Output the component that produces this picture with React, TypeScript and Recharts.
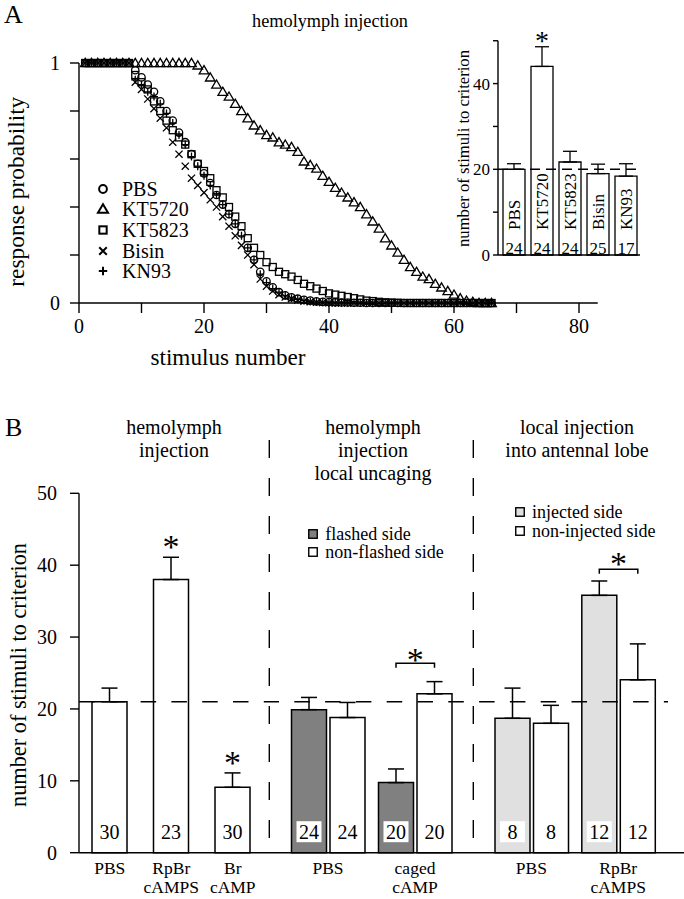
import React from 'react';
import {
  ScatterChart, Scatter, XAxis, YAxis, BarChart, Bar, ErrorBar,
  ReferenceLine, LabelList, Legend,
} from 'recharts';

const FONT = '"Liberation Serif", "Times New Roman", serif';

// ---- Panel A: response probability for stimulus 1..66
const pbs = [1, 1, 1, 1, 1, 1, 1, 1, 0.97, 0.94, 0.91, 0.88, 0.84, 0.8, 0.76, 0.71, 0.67, 0.62, 0.58, 0.54,
  0.5, 0.45, 0.41, 0.37, 0.33, 0.29, 0.23, 0.18, 0.13, 0.09, 0.065, 0.045, 0.032, 0.024, 0.018, 0.013, 0.01, 0.007, 0.005, 0.004,
  0.003, 0.002, 0.002, 0.001, 0.001, 0, 0, 0, 0, 0, 0, 0, 0, 0, 0, 0, 0, 0, 0, 0, 0, 0, 0, 0, 0, 0];
const kt5720 = [1, 1, 1, 1, 1, 1, 1, 1, 1, 1, 1, 1, 1, 1, 1, 1, 1, 1, 0.99, 0.97,
  0.94, 0.91, 0.88, 0.86, 0.83, 0.8, 0.77, 0.74, 0.72, 0.7, 0.69, 0.67, 0.66, 0.65, 0.63, 0.59, 0.575, 0.56, 0.53, 0.505,
  0.48, 0.46, 0.44, 0.42, 0.4, 0.37, 0.34, 0.31, 0.27, 0.24, 0.21, 0.18, 0.15, 0.13, 0.11, 0.1, 0.08, 0.065, 0.05, 0.035,
  0.02, 0.01, 0.005, 0, 0, 0];
const kt5823 = [1, 1, 1, 1, 1, 1, 1, 1, 0.95, 0.92, 0.89, 0.84, 0.8, 0.76, 0.72, 0.69, 0.66, 0.62, 0.58, 0.55,
  0.52, 0.47, 0.44, 0.4, 0.36, 0.32, 0.27, 0.23, 0.2, 0.17, 0.15, 0.13, 0.12, 0.11, 0.096, 0.08, 0.07, 0.06, 0.05, 0.04,
  0.035, 0.03, 0.025, 0.02, 0.015, 0.01, 0.008, 0.005, 0.003, 0.002, 0.001, 0, 0, 0, 0, 0, 0, 0, 0, 0, 0, 0, 0, 0, 0, 0];
const bisin = [1, 1, 1, 1, 1, 1, 1, 1, 0.92, 0.89, 0.85, 0.81, 0.77, 0.73, 0.67, 0.62, 0.57, 0.52, 0.49, 0.46,
  0.43, 0.4, 0.36, 0.32, 0.28, 0.24, 0.2, 0.16, 0.1, 0.07, 0.05, 0.035, 0.025, 0.018, 0.012, 0.008, 0.005, 0.003, 0.002, 0.001,
  0, 0, 0, 0, 0, 0, 0, 0, 0, 0, 0, 0, 0, 0, 0, 0, 0, 0, 0, 0, 0, 0, 0, 0, 0, 0];
const kn93 = [1, 1, 1, 1, 1, 1, 1, 1, 0.93, 0.91, 0.88, 0.86, 0.83, 0.79, 0.75, 0.7, 0.66, 0.61, 0.57, 0.53,
  0.49, 0.45, 0.41, 0.37, 0.33, 0.28, 0.23, 0.18, 0.12, 0.085, 0.06, 0.045, 0.03, 0.02, 0.015, 0.01, 0.006, 0.004, 0.003, 0.002,
  0.001, 0.001, 0, 0, 0, 0, 0, 0, 0, 0, 0, 0, 0, 0, 0, 0, 0, 0, 0, 0, 0, 0, 0, 0, 0, 0];
const xTicksA = [0, 10, 20, 30, 40, 50, 60, 70, 80];
const yTicksA = [0, 0.2, 0.4, 0.6, 0.8, 1];

// ---- Panel A inset
const insetGroups = ['PBS', 'KT5720', 'KT5823', 'Bisin', 'KN93'];
const insetMeans = [20, 44, 21.7, 19, 18.4];
const insetSem = [1.3, 4.6, 2.5, 2.2, 2.9];
const insetN = [24, 24, 24, 25, 17];
const insetSig = [0, 1, 0, 0, 0];

// ---- Panel B, hemolymph injection
const hemoGroups = ['PBS', 'RpBr cAMPS', 'Br cAMP'];
const hemoMeans = [21, 38, 9.1];
const hemoSem = [1.9, 3.1, 2.0];
const hemoN = [30, 23, 30];
const hemoSig = [0, 1, 1];

// ---- Panel B, local uncaging
const uncageGroups = ['PBS', 'caged cAMP'];
const flashedMeans = [19.9, 9.75];
const flashedSem = [1.7, 1.9];
const flashedN = [24, 20];
const nonFlashedMeans = [18.8, 22.1];
const nonFlashedSem = [2.1, 1.7];
const nonFlashedN = [24, 20];
const uncageSig = [0, 1];

// ---- Panel B, local injection into antennal lobe
const localGroups = ['PBS', 'RpBr cAMPS'];
const injectedMeans = [18.7, 35.8];
const injectedSem = [4.2, 2.0];
const injectedN = [8, 12];
const nonInjectedMeans = [18.0, 24.05];
const nonInjectedSem = [2.5, 5.0];
const nonInjectedN = [8, 12];
const localSig = [0, 1];

const yTicksB = [0, 10, 20, 30, 40, 50];
const BAR_GAP = 3.5;

const ink = { fill: 'none', stroke: '#000' };
type Mark = (cx: number, cy: number, s?: number, w?: number) => React.ReactElement;
const markCircle: Mark = (cx, cy, s = 1, w = 1.3) => <circle cx={cx} cy={cy} r={3.7 * s} {...ink} strokeWidth={w} />;
const markTriangle: Mark = (cx, cy, s = 1, w = 1.3) => (
  <path d={`M${cx},${cy - 4.6 * s}L${cx + 4.8 * s},${cy + 3.6 * s}L${cx - 4.8 * s},${cy + 3.6 * s}Z`} {...ink} strokeWidth={w} />
);
const markSquare: Mark = (cx, cy, s = 1, w = 1.3) => (
  <rect x={cx - 3.5 * s} y={cy - 3.5 * s} width={7 * s} height={7 * s} {...ink} strokeWidth={w} />
);
const markX: Mark = (cx, cy, s = 1, w = 1.3) => (
  <path d={`M${cx - 3.6 * s},${cy - 3.6 * s}L${cx + 3.6 * s},${cy + 3.6 * s}M${cx + 3.6 * s},${cy - 3.6 * s}L${cx - 3.6 * s},${cy + 3.6 * s}`} {...ink} strokeWidth={w} />
);
const markPlus: Mark = (cx, cy, s = 1, w = 1.3) => (
  <path d={`M${cx - 4 * s},${cy}H${cx + 4 * s}M${cx},${cy - 4 * s}V${cy + 4 * s}`} {...ink} strokeWidth={w} />
);

const curves = [
  { name: 'PBS', values: pbs, mark: markCircle },
  { name: 'KT5720', values: kt5720, mark: markTriangle },
  { name: 'KT5823', values: kt5823, mark: markSquare },
  { name: 'Bisin', values: bisin, mark: markX },
  { name: 'KN93', values: kn93, mark: markPlus },
];
const curveNames = curves.map((c) => c.name);
const markByName: Record<string, Mark> = Object.fromEntries(curves.map((c) => [c.name, c.mark]));

const insetData = insetGroups.map((g, i) => ({ group: g, mean: insetMeans[i], err: [0, insetSem[i]], n: insetN[i], sig: insetSig[i] }));
const hemoData = hemoGroups.map((g, i) => ({ treatment: g, mean: hemoMeans[i], err: [0, hemoSem[i]], n: hemoN[i], sig: hemoSig[i] }));
const uncageData = uncageGroups.map((g, i) => ({
  treatment: g,
  flashed: flashedMeans[i], flashedErr: [0, flashedSem[i]], flashedN: flashedN[i],
  nonFlashed: nonFlashedMeans[i], nonFlashedErr: [0, nonFlashedSem[i]], nonFlashedN: nonFlashedN[i],
  sig: uncageSig[i],
}));
const localData = localGroups.map((g, i) => ({
  treatment: g,
  injected: injectedMeans[i], injectedErr: [0, injectedSem[i]], injectedN: injectedN[i],
  nonInjected: nonInjectedMeans[i], nonInjectedErr: [0, nonInjectedSem[i]], nonInjectedN: nonInjectedN[i],
  sig: localSig[i],
}));

const axisStyle = { stroke: '#000', strokeWidth: 1.4 };

const star = (cx: number, cyMid: number, size: number) => (
  <text x={cx} y={cyMid + size * 0.47} textAnchor="middle" fontSize={size} fill="#000">*</text>
);

const ScatterLegend = ({ payload }: any) => {
  const items = [...(payload || [])].sort((a: any, b: any) => curveNames.indexOf(a.value) - curveNames.indexOf(b.value));
  return (
    <div style={{ fontFamily: FONT, fontSize: 20, color: '#000' }}>
      {items.map((p: any) => (
        <div key={p.value} style={{ display: 'flex', alignItems: 'center', height: 20.6 }}>
          <svg width={16} height={16} style={{ overflow: 'visible' }}>{markByName[p.value]?.(8, 8, 1.05, 2)}</svg>
          <span style={{ marginLeft: 11, lineHeight: 1 }}>{p.value}</span>
        </div>
      ))}
    </div>
  );
};

const boxLegend = (rowH: number) => ({ payload }: any) => (
  <div style={{ fontFamily: FONT, fontSize: 18, color: '#000' }}>
    {(payload || []).map((p: any) => (
      <div key={p.value} style={{ display: 'flex', alignItems: 'center', height: rowH }}>
        <svg width={10} height={10}><rect x={0.75} y={0.75} width={8.5} height={8.5} fill={p.payload?.fill ?? p.color} stroke="#000" strokeWidth={1.4} /></svg>
        <span style={{ marginLeft: 7, lineHeight: 1 }}>{p.value}</span>
      </div>
    ))}
  </div>
);

const insetInside = (props: any) => {
  const { x, y, width, height, index } = props;
  const cx = x + width / 2;
  const base = y + height;
  return (
    <g>
      <text x={cx} y={base - 25} dy="0.36em" transform={`rotate(-90 ${cx} ${base - 25})`} fontSize={17} fill="#000">{insetGroups[index]}</text>
      <text x={cx} y={base - 7} textAnchor="middle" dominantBaseline="central" fontSize={17} fill="#000">{insetN[index]}</text>
    </g>
  );
};

const starAbove = (means: number[], sem: number[], gap: number, size: number) => (props: any) => {
  const { x, y, width, height, index, value } = props;
  if (!value) return null;
  const pxPer = height / means[index];
  const errTop = y - sem[index] * pxPer;
  return star(x + width / 2, errTop - gap, size);
};

const countLabel = (props: any) => {
  const { x, y, width, height, value } = props;
  const cx = x + width / 2;
  const base = y + height;
  return (
    <g>
      <rect x={cx - 12.5} y={base - 31.5} width={25} height={21} fill="#fff" />
      <text x={cx} y={base - 21} textAnchor="middle" dominantBaseline="central" fontSize={20} fill="#000">{value}</text>
    </g>
  );
};

const pairBracket = (
  aMeans: number[], aSem: number[], bMeans: number[], bSem: number[], gap: number, starGap: number,
) => (props: any) => {
  const { x, y, width, height, index, value } = props;
  if (!value) return null;
  const pxPer = height / bMeans[index];
  const base = y + height;
  const top = Math.max(aMeans[index] + aSem[index], bMeans[index] + bSem[index]);
  const by = base - top * pxPer - gap;
  const right = x + width / 2;
  const left = x - BAR_GAP - width / 2;
  return (
    <g>
      <path d={`M${left},${by + 4.4}V${by}H${right}V${by + 4.4}`} fill="none" stroke="#000" strokeWidth={1.5} />
      {star((left + right) / 2, by - starGap, 34)}
    </g>
  );
};

const CatTick = (props: any) => {
  const { x, y, payload } = props;
  const lines = String(payload.value).split(' ');
  return (
    <g>
      {lines.map((l, i) => (
        <text key={i} x={x} y={y + 21 + i * 19.5} textAnchor="middle" fontSize={17.5} fill="#000">{l}</text>
      ))}
    </g>
  );
};

const refShape = (offset: number, trim: number, dash: string) => (p: any) => (
  <line x1={p.x1} y1={p.y1} x2={p.x2 - trim} y2={p.y2} stroke="#000" strokeWidth={1.4} strokeDasharray={dash} strokeDashoffset={offset} />
);

const B_H = 479;
const B_MARGIN = { top: 73.3, right: 0, bottom: 0, left: 0 };

export default function App() {
  return (
    <div style={{ position: 'absolute', left: 0, top: 0, width: 684, height: 899, background: '#fff', fontFamily: FONT, overflow: 'hidden' }}>
      {/* Panel A */}
      <div style={{ position: 'absolute', left: 0, top: 0 }}>
        <ScatterChart width={684} height={360} margin={{ top: 63, right: 86.25, bottom: 17, left: 0 }}>
          <XAxis type="number" dataKey="x" domain={[0, 83]} ticks={xTicksA} allowDataOverflow
            tickFormatter={(v: number) => (v % 20 === 0 ? String(v) : '')}
            axisLine={axisStyle} tickLine={axisStyle} tickSize={10} tickMargin={6} height={40}
            tick={{ fill: '#000', fontSize: 20 }} />
          <YAxis type="number" dataKey="y" domain={[0, 1]} ticks={yTicksA} width={79}
            tickFormatter={(v: number) => (v === 0 || v === 1 ? String(v) : '')}
            axisLine={axisStyle} tickLine={axisStyle} tickSize={9} tickMargin={10}
            tick={{ fill: '#000', fontSize: 20 }} />
          <Legend layout="vertical" align="center" verticalAlign="middle" content={ScatterLegend}
            wrapperStyle={{ left: 95, top: 178.5, width: 120 }} />
          {curves.map((c) => (
            <Scatter key={c.name} name={c.name} data={c.values.map((v, i) => ({ x: i + 1, y: v }))}
              isAnimationActive={false} shape={(p: any) => c.mark(p.cx, p.cy)} />
          ))}
        </ScatterChart>
      </div>

      {/* Panel A inset */}
      <div style={{ position: 'absolute', left: 420, top: 0 }}>
        <BarChart width={230} height={280} data={insetData} barSize={22}
          margin={{ top: 40.75, right: 10, bottom: 24, left: 0 }}>
          <XAxis dataKey="group" tick={false} tickLine={false} axisLine={axisStyle} height={1} padding={{ left: 2, right: 0 }} />
          <YAxis domain={[0, 50]} ticks={yTicksB} width={78} tickFormatter={(v: number) => (v % 20 === 0 ? String(v) : '')}
            axisLine={axisStyle} tickLine={axisStyle} tickSize={5} tickMargin={3} tick={{ fill: '#000', fontSize: 17 }} />
          <Bar dataKey="mean" fill="#fff" stroke="#000" strokeWidth={1.3} isAnimationActive={false}>
            <ErrorBar dataKey="err" width={7} stroke="#000" strokeWidth={1.3} isAnimationActive={false} />
            <LabelList dataKey="n" content={insetInside} />
            <LabelList dataKey="sig" content={starAbove(insetMeans, insetSem, 9.7, 28)} />
          </Bar>
          <ReferenceLine y={20} shape={refShape(0, 0, '10 6')} />
        </BarChart>
      </div>

      {/* Panel B: hemolymph injection */}
      <div style={{ position: 'absolute', left: 0, top: 420 }}>
        <BarChart width={269} height={B_H} data={hemoData} margin={B_MARGIN} barSize={35}>
          <XAxis dataKey="treatment" height={46.3} interval={0} tickLine={false} tickSize={0} tickMargin={0}
            axisLine={axisStyle} tick={<CatTick />} padding={{ left: 0, right: 5.5 }} />
          <YAxis domain={[0, 50]} ticks={yTicksB} width={79} axisLine={axisStyle} tickLine={axisStyle}
            tickSize={9} tickMargin={13} tick={{ fill: '#000', fontSize: 20 }} />
          <Bar dataKey="mean" fill="#fff" stroke="#000" strokeWidth={1.5} isAnimationActive={false}>
            <ErrorBar dataKey="err" width={8} stroke="#000" strokeWidth={1.5} isAnimationActive={false} />
            <LabelList dataKey="n" content={countLabel} />
            <LabelList dataKey="sig" content={starAbove(hemoMeans, hemoSem, 15.3, 34)} />
          </Bar>
          <ReferenceLine y={21} shape={refShape(0, 0, '15.5 15.3')} />
        </BarChart>
      </div>

      {/* Panel B: local uncaging */}
      <div style={{ position: 'absolute', left: 269, top: 420 }}>
        <BarChart width={204} height={B_H} data={uncageData} margin={B_MARGIN} barSize={35} barGap={BAR_GAP}>
          <XAxis dataKey="treatment" height={46.3} interval={0} tickLine={false} tickSize={0} tickMargin={0}
            axisLine={axisStyle} tick={<CatTick />} padding={{ left: 15.5, right: 14.5 }} />
          <YAxis hide domain={[0, 50]} />
          <Legend layout="vertical" align="center" verticalAlign="middle" content={boxLegend(18.4)}
            wrapperStyle={{ left: 39.3, top: 104.6, width: 160 }} />
          <Bar dataKey="flashed" name="flashed side" fill="#808080" stroke="#000" strokeWidth={1.5} isAnimationActive={false}>
            <ErrorBar dataKey="flashedErr" width={8} stroke="#000" strokeWidth={1.5} isAnimationActive={false} />
            <LabelList dataKey="flashedN" content={countLabel} />
          </Bar>
          <Bar dataKey="nonFlashed" name="non-flashed side" fill="#fff" stroke="#000" strokeWidth={1.5} isAnimationActive={false}>
            <ErrorBar dataKey="nonFlashedErr" width={8} stroke="#000" strokeWidth={1.5} isAnimationActive={false} />
            <LabelList dataKey="nonFlashedN" content={countLabel} />
            <LabelList dataKey="sig" content={pairBracket(flashedMeans, flashedSem, nonFlashedMeans, nonFlashedSem, 18.4, 8.3)} />
          </Bar>
          <ReferenceLine y={21} shape={refShape(5.5, 0, '15.5 15.3')} />
        </BarChart>
      </div>

      {/* Panel B: local injection */}
      <div style={{ position: 'absolute', left: 473, top: 420 }}>
        <BarChart width={211} height={B_H} data={localData} margin={B_MARGIN} barSize={35} barGap={BAR_GAP}>
          <XAxis dataKey="treatment" height={46.3} interval={0} tickLine={false} tickSize={0} tickMargin={0}
            axisLine={axisStyle} tick={<CatTick />} padding={{ left: 15, right: 22.4 }} />
          <YAxis hide domain={[0, 50]} />
          <Legend layout="vertical" align="center" verticalAlign="middle" content={boxLegend(19.3)}
            wrapperStyle={{ left: 42, top: 82.2, width: 170 }} />
          <Bar dataKey="injected" name="injected side" fill="#e0e0e0" stroke="#000" strokeWidth={1.5} isAnimationActive={false}>
            <ErrorBar dataKey="injectedErr" width={8} stroke="#000" strokeWidth={1.5} isAnimationActive={false} />
            <LabelList dataKey="injectedN" content={countLabel} />
          </Bar>
          <Bar dataKey="nonInjected" name="non-injected side" fill="#fff" stroke="#000" strokeWidth={1.5} isAnimationActive={false}>
            <ErrorBar dataKey="nonInjectedErr" width={8} stroke="#000" strokeWidth={1.5} isAnimationActive={false} />
            <LabelList dataKey="nonInjectedN" content={countLabel} />
            <LabelList dataKey="sig" content={pairBracket(injectedMeans, injectedSem, nonInjectedMeans, nonInjectedSem, 11.7, 10)} />
          </Bar>
          <ReferenceLine y={21} shape={refShape(24.7, 16, '15.5 15.3')} />
        </BarChart>
      </div>

      {/* titles, panel letters and group dividers */}
      <svg width={684} height={899} style={{ position: 'absolute', left: 0, top: 0, pointerEvents: 'none' }}>
        <g fill="#000" fontFamily={FONT}>
          <text x={4} y={23} fontSize={26}>A</text>
          <text x={330} y={26.5} fontSize={19} textAnchor="middle" textLength={156} lengthAdjust="spacingAndGlyphs">hemolymph injection</text>
          <text x={24} y={191.7} fontSize={23} textAnchor="middle" textLength={190} lengthAdjust="spacingAndGlyphs" transform="rotate(-90 24 191.7)">response probability</text>
          <text x={228} y={365} fontSize={23} textAnchor="middle" textLength={155} lengthAdjust="spacingAndGlyphs">stimulus number</text>
          <text x={469} y={148.5} fontSize={17} textAnchor="middle" textLength={197} lengthAdjust="spacingAndGlyphs" transform="rotate(-90 469 148.5)">number of stimuli to criterion</text>

          <text x={5} y={436} fontSize={26}>B</text>
          <text x={26} y={675} fontSize={22.5} textAnchor="middle" textLength={264} lengthAdjust="spacingAndGlyphs" transform="rotate(-90 26 675)">number of stimuli to criterion</text>
          <text x={174} y={433.5} fontSize={20} textAnchor="middle">hemolymph</text>
          <text x={174} y={456.5} fontSize={20} textAnchor="middle">injection</text>
          <text x={373} y={433.5} fontSize={20} textAnchor="middle">hemolymph</text>
          <text x={373} y={456.5} fontSize={20} textAnchor="middle">injection</text>
          <text x={373} y={479.5} fontSize={20} textAnchor="middle">local uncaging</text>
          <text x={577} y={433.5} fontSize={20} textAnchor="middle">local injection</text>
          <text x={577} y={456.5} fontSize={20} textAnchor="middle">into antennal lobe</text>
        </g>
        <line x1={269.3} y1={440} x2={269.3} y2={852.7} stroke="#000" strokeWidth={1.4} strokeDasharray="18 20" />
        <line x1={473.3} y1={440} x2={473.3} y2={852.7} stroke="#000" strokeWidth={1.4} strokeDasharray="18 20" />
      </svg>
    </div>
  );
}
